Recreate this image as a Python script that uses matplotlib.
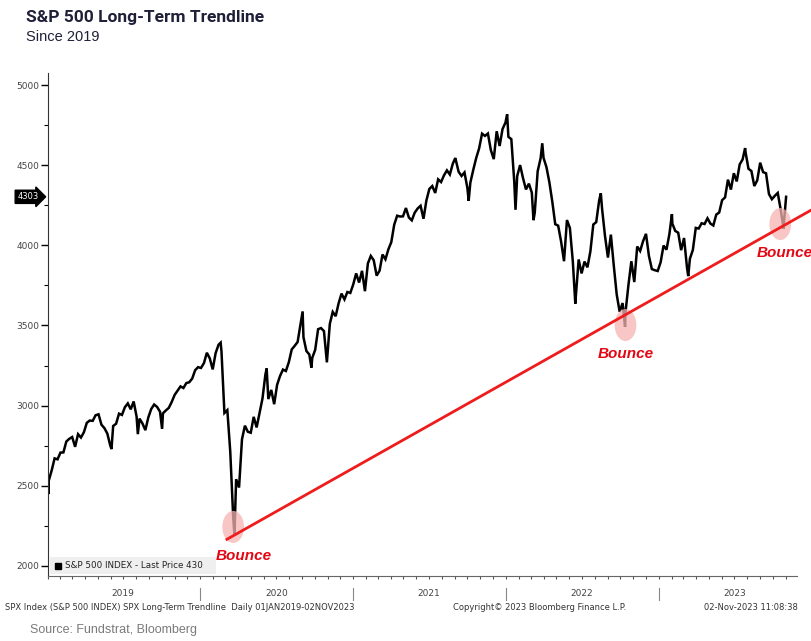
import numpy as np
import pandas as pd
import matplotlib
matplotlib.use("Agg")
import matplotlib.pyplot as plt
import matplotlib.dates as mdates
import matplotlib.transforms as mtransforms
from matplotlib.patches import Ellipse, Rectangle

# weekly closes (Fridays)
close_2019 = [2532, 2596, 2671, 2665, 2707, 2708, 2776, 2793, 2804, 2743, 2822, 2801, 2834,
              2893, 2907, 2905, 2940, 2946, 2881, 2860, 2826, 2752, 2873, 2887, 2950, 2942,
              2990, 3014, 2977, 3026, 2932, 2919, 2889, 2847, 2926, 2979, 3007, 2992, 2962,
              2952, 2970, 2986, 3023, 3067, 3093, 3120, 3110, 3141, 3146, 3169, 3221, 3240]
close_2020 = [3235, 3265, 3330, 3295, 3226, 3328, 3380, 3338, 2954, 2972, 2711, 2305, 2541,
              2489, 2790, 2875, 2837, 2831, 2930, 2864, 2955, 3044, 3194, 3041, 3098, 3009,
              3130, 3185, 3225, 3216, 3271, 3351, 3373, 3397, 3508, 3427, 3341, 3319, 3298,
              3348, 3477, 3484, 3465, 3270, 3510, 3585, 3558, 3638, 3699, 3663, 3709, 3703]
close_2021 = [3756, 3825, 3768, 3841, 3714, 3887, 3934, 3907, 3811, 3842, 3943, 3913, 3975,
              4020, 4129, 4185, 4180, 4181, 4233, 4174, 4156, 4204, 4230, 4247, 4166, 4281,
              4352, 4370, 4327, 4412, 4395, 4437, 4468, 4442, 4509, 4535, 4459, 4433, 4455,
              4357, 4391, 4471, 4545, 4605, 4697, 4683, 4698, 4595, 4538, 4712, 4620, 4726, 4766]
close_2022 = [4677, 4663, 4398, 4432, 4501, 4419, 4349, 4385, 4329, 4204, 4463, 4543, 4546,
              4488, 4393, 4272, 4132, 4123, 4024, 3901, 4158, 4109, 3901, 3675, 3912, 3825,
              3899, 3863, 3962, 4130, 4145, 4280, 4228, 4058, 3924, 4067, 3873, 3693, 3586,
              3640, 3583, 3752, 3901, 3771, 3993, 3965, 4026, 4072, 3934, 3852, 3845, 3840]
close_2023 = [3895, 3999, 3973, 4071, 4136, 4090, 4079, 3970, 4046, 3862, 3917, 3971, 4109,
              4105, 4138, 4133, 4169, 4136, 4124, 4192, 4205, 4282, 4299, 4410, 4348, 4450,
              4399, 4505, 4536, 4582, 4478, 4464, 4370, 4406, 4516, 4457, 4450, 4320, 4288,
              4309, 4327, 4224, 4117]

# daily extremes between the weekly points
extreme_dates = ["2019-01-02", "2019-01-03", "2019-06-03", "2019-08-05", "2019-10-02",
                 "2020-02-19", "2020-03-23", "2020-06-08", "2020-09-02", "2020-09-23",
                 "2021-09-02", "2021-10-04", "2022-01-04", "2022-01-24", "2022-03-08",
                 "2022-03-29", "2022-06-16", "2022-08-16", "2022-10-13", "2023-02-02",
                 "2023-03-13", "2023-07-27", "2023-10-27", "2023-11-02"]
extreme_vals = [2510, 2448, 2729, 2822, 2855, 3393, 2192, 3232, 3588, 3237,
                4545, 4278, 4818, 4222, 4157, 4637, 3636, 4325, 3491, 4195,
                3808, 4607, 4104, 4303]

last_price = 4303

# trendline end points
trend_dates = ["2020-03-05", "2024-01-05"]
trend_vals = [2166, 4226]

# bounce markers
bounce_dates = ["2020-03-20", "2022-10-14", "2023-10-19"]
bounce_vals = [2243, 3503, 4133]
label_dates = ["2020-04-15", "2022-10-14", "2023-10-30"]
label_vals = [2060, 3320, 3950]

year_labels = ["2019", "2020", "2021", "2022", "2023"]

closes = close_2019 + close_2020 + close_2021 + close_2022 + close_2023
weekly_dates = pd.date_range("2019-01-04", periods=len(closes), freq="W-FRI")
s = pd.Series(closes, index=weekly_dates)
s = pd.concat([s, pd.Series(extreme_vals, index=pd.to_datetime(extreme_dates))]).sort_index()

fig = plt.figure(figsize=(8.12, 6.41), dpi=100)
ax = fig.add_axes([0.0585, 0.1014, 0.923, 0.7846])

ax.plot(s.index, s.values, color="black", lw=1.8, solid_joinstyle="miter")

td = pd.to_datetime(trend_dates)
ax.plot(td, trend_vals, color="#ee1c1c", lw=2.0, clip_on=False, zorder=4)

for d, v in zip(pd.to_datetime(bounce_dates), bounce_vals):
    e = Ellipse((mdates.date2num(d), v), width=52, height=200,
                facecolor="#f7b3b3", edgecolor="none", alpha=0.75, zorder=3, clip_on=False)
    ax.add_patch(e)
for d, v in zip(pd.to_datetime(label_dates), label_vals):
    ax.text(d, v, "Bounce", color="#e30613", fontsize=11, fontweight="bold",
            fontstyle="italic", family="Liberation Sans", ha="center", va="center",
            clip_on=False, zorder=5)

ax.set_xlim(pd.Timestamp("2019-01-01"), pd.Timestamp("2023-11-28"))
ax.set_ylim(1937, 5075)

ax.set_yticks(np.arange(2000, 5001, 500))
ax.yaxis.set_minor_locator(matplotlib.ticker.MultipleLocator(250))
ax.tick_params(axis="y", which="major", length=5, width=1, labelsize=6.5,
               labelcolor="#444444", pad=1)
ax.tick_params(axis="y", which="minor", length=3, width=0.8)

ax.xaxis.set_major_locator(mdates.YearLocator())
ax.xaxis.set_minor_locator(mdates.MonthLocator())
ax.xaxis.set_major_formatter(matplotlib.ticker.NullFormatter())
ax.tick_params(axis="x", which="both", length=2.5, width=0.8, color="#555555")

for sp in ["top", "right"]:
    ax.spines[sp].set_visible(False)
ax.spines["left"].set_color("#333333")
ax.spines["bottom"].set_color("#666666")

trans = mtransforms.blended_transform_factory(ax.transData, ax.transAxes)
for i, lab in enumerate(year_labels):
    yr = int(lab)
    ax.text(pd.Timestamp(f"{yr}-07-01"), -0.034, lab, transform=trans, ha="center",
            va="center", fontsize=6.5, color="#444444")
    if yr > 2019:
        ax.plot([pd.Timestamp(f"{yr}-01-01")] * 2, [-0.024, -0.048], transform=trans,
                color="#888888", lw=0.8, clip_on=False)

# last price tag
transy = mtransforms.blended_transform_factory(ax.transAxes, ax.transData)
ax.text(-0.012, last_price, str(last_price), transform=transy, ha="right", va="center",
        color="white", fontsize=6,
        bbox=dict(boxstyle="rarrow,pad=0.25", fc="black", ec="black"))

# legend box
ax.add_patch(Rectangle((0.003, 0.003), 0.222, 0.034, transform=ax.transAxes,
                       facecolor="#efefef", edgecolor="none", zorder=2))
ax.plot([0.014], [0.02], marker="s", ms=5, color="black", transform=ax.transAxes,
        clip_on=False, zorder=3)
ax.text(0.024, 0.02, "S&P 500 INDEX - Last Price 430", transform=ax.transAxes,
        fontsize=6.3, va="center", ha="left", color="#222222", zorder=3)

fig.text(0.032, 0.972, "S&P 500 Long-Term Trendline", fontsize=12.5, fontweight="bold",
         family="Roboto", color="#1f1f38", va="center")
fig.text(0.032, 0.942, "Since 2019", fontsize=10.5, family="Liberation Sans",
         color="#1f1f38", va="center")

fig.text(0.006, 0.053, "SPX Index (S&P 500 INDEX) SPX Long-Term Trendline  Daily 01JAN2019-02NOV2023",
         fontsize=6, color="#333333", va="center")
fig.text(0.558, 0.053, "Copyright\u00a9 2023 Bloomberg Finance L.P.", fontsize=6,
         color="#333333", va="center")
fig.text(0.982, 0.053, "02-Nov-2023 11:08:38", fontsize=6, color="#333333",
         va="center", ha="right")
fig.text(0.037, 0.017, "Source: Fundstrat, Bloomberg", fontsize=9, color="#7a7a7a",
         family="Liberation Sans", va="center")

fig.savefig("out.png", dpi=100)
